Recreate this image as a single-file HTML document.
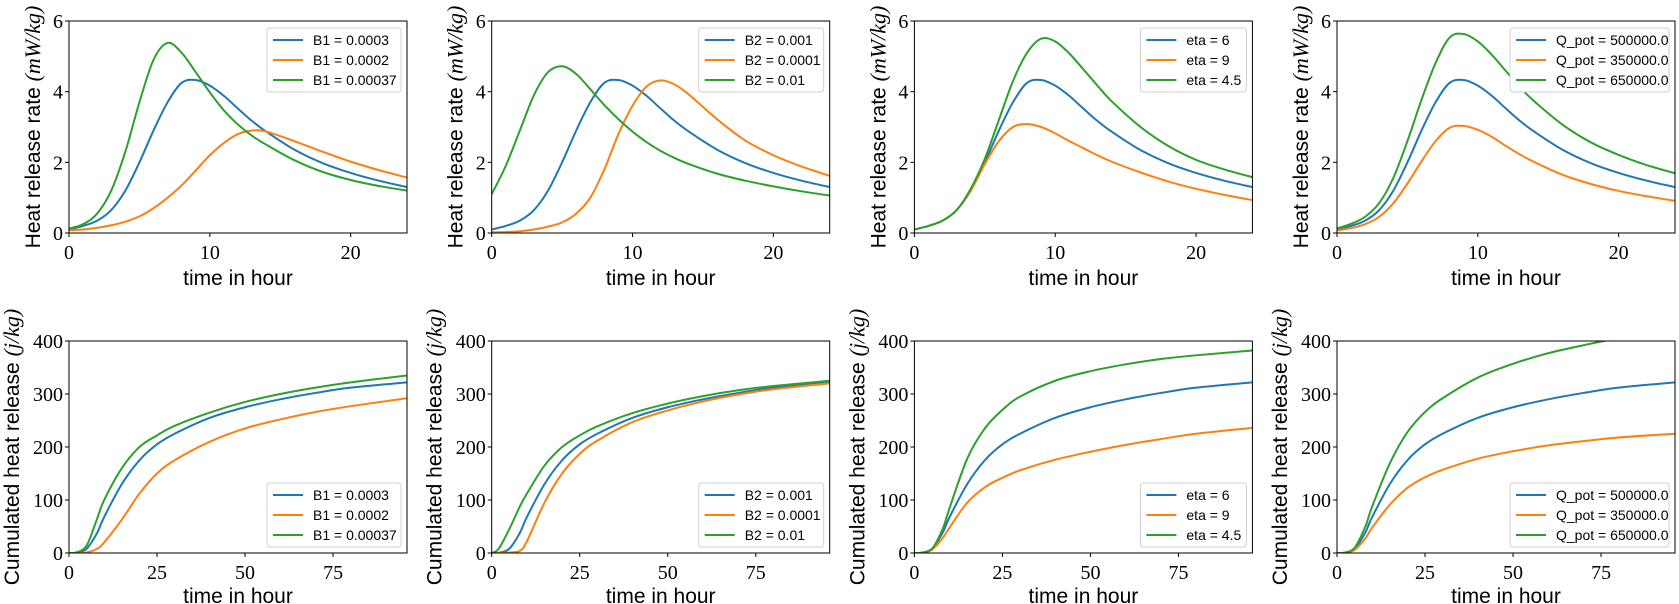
<!DOCTYPE html>
<html><head><meta charset="utf-8">
<style>
html,body{margin:0;padding:0;background:#fff;}
svg{display:block;}
.tick{font-family:"Liberation Serif",serif;font-size:20px;fill:#000;}
.lab{font-family:"Liberation Sans",sans-serif;font-size:21px;fill:#000;}
.leg{font-family:"Liberation Sans",sans-serif;font-size:14px;fill:#000;}
</style></head>
<body>
<svg id="fig" width="1679" height="604" xmlns="http://www.w3.org/2000/svg"></svg>
<script>
// ---------- data ----------
const tTop = [0,1,2,3,4,5,6,7,8,9,10,11,12,13,14,16,18,20,22,24];
const rateBase   = [0.1,0.2,0.35,0.65,1.2,2.0,2.9,3.7,4.25,4.33,4.17,3.88,3.52,3.17,2.87,2.36,1.98,1.7,1.48,1.3];
const rateB1Low  = [0.08,0.1,0.15,0.22,0.32,0.47,0.7,1.0,1.35,1.77,2.2,2.55,2.8,2.9,2.87,2.6,2.3,2.02,1.78,1.57];
const rateB1High = [0.12,0.25,0.55,1.2,2.3,3.7,4.9,5.38,5.1,4.55,3.98,3.47,3.07,2.75,2.5,2.06,1.73,1.5,1.33,1.2];
const rateB2Low  = [0.02,0.03,0.05,0.1,0.18,0.3,0.55,1.0,1.8,2.8,3.6,4.15,4.32,4.2,3.92,3.22,2.62,2.2,1.88,1.62];
const rateB2High = [1.1,1.9,2.9,3.9,4.55,4.72,4.5,4.07,3.62,3.22,2.87,2.57,2.32,2.12,1.95,1.68,1.48,1.32,1.18,1.06];
const rateEta9   = [0.1,0.2,0.35,0.65,1.2,1.95,2.6,3.0,3.08,3.0,2.82,2.6,2.4,2.2,2.02,1.72,1.46,1.25,1.08,0.93];
const rateEta45  = [0.1,0.2,0.35,0.65,1.25,2.1,3.2,4.3,5.1,5.5,5.42,5.08,4.63,4.17,3.73,3.02,2.47,2.07,1.8,1.58];
const rateQ350   = [0.07,0.14,0.25,0.46,0.84,1.4,2.03,2.6,2.98,3.03,2.92,2.72,2.46,2.22,2.01,1.65,1.39,1.19,1.04,0.91];
const rateQ650   = [0.13,0.26,0.46,0.85,1.56,2.6,3.77,4.81,5.53,5.63,5.42,5.04,4.58,4.12,3.73,3.07,2.57,2.21,1.92,1.69];

const tBot = [0,2,5,8,10,15,20,25,30,40,50,60,70,80,96];
const cumBase   = [0,0.5,8,38,68,130,175,205,225,255,275,290,302,312,322];
const cumB1Low  = [0,0,1,8,20,63,112,150,175,210,235,252,266,277,292];
const cumB1High = [0,1,14,65,100,160,200,222,240,265,285,300,312,322,335];
const cumB2Low  = [0,0,1,4,22,95,150,187,212,247,269,286,299,309,320];
const cumB2High = [0,8,45,88,112,165,200,222,239,264,282,296,307,315,325];
const cumEta9   = [0,0.5,6,28,48,95,124,142,156,176,191,204,215,225,236];
const cumEta45  = [0,0.5,8,45,85,178,235,270,295,325,343,356,366,373,382];
const cumQ350   = [0,0.3,6,27,48,91,123,143,157,178,192,203,211,218,225];
const cumQ650   = [0,0.6,10,49,88,169,228,266,292,331,357,377,392,405,419];

const legB1 = ["B1 = 0.0003","B1 = 0.0002","B1 = 0.00037"];
const legB2 = ["B2 = 0.001","B2 = 0.0001","B2 = 0.01"];
const legEta = ["eta = 6","eta = 9","eta = 4.5"];
const legQ = ["Q_pot = 500000.0","Q_pot = 350000.0","Q_pot = 650000.0"];

const topTicksX = [0,10,20], topTicksY = [0,2,4,6];
const botTicksX = [0,25,50,75], botTicksY = [0,100,200,300,400];

// ---------- layout ----------
const COLORS = ["#1f77b4","#ff7f0e","#2ca02c"];
const colLeft = [69,491.7,914.4,1337];
const W = 338;
const rows = [{top:21,bot:233},{top:341,bot:553}];
const legW = [134,125,106,159];
const NS = "http://www.w3.org/2000/svg";
const fig = document.getElementById('fig');

function mk(tag, attrs, parent){
  const e = document.createElementNS(NS, tag);
  for (const k in attrs) e.setAttribute(k, attrs[k]);
  (parent||fig).appendChild(e);
  return e;
}
function smooth(pts){
  let d = "M"+pts[0][0].toFixed(2)+","+pts[0][1].toFixed(2);
  for (let i=0;i<pts.length-1;i++){
    const p0=pts[Math.max(0,i-1)], p1=pts[i], p2=pts[i+1], p3=pts[Math.min(pts.length-1,i+2)];
    const c1=[p1[0]+(p2[0]-p0[0])/6, p1[1]+(p2[1]-p0[1])/6];
    const c2=[p2[0]-(p3[0]-p1[0])/6, p2[1]-(p3[1]-p1[1])/6];
    d+=" C"+c1[0].toFixed(2)+","+c1[1].toFixed(2)+" "+c2[0].toFixed(2)+","+c2[1].toFixed(2)+" "+p2[0].toFixed(2)+","+p2[1].toFixed(2);
  }
  return d;
}

const panels = [
  {r:0,c:0,t:tTop,ser:[rateBase,rateB1Low,rateB1High],leg:legB1},
  {r:0,c:1,t:tTop,ser:[rateBase,rateB2Low,rateB2High],leg:legB2},
  {r:0,c:2,t:tTop,ser:[rateBase,rateEta9,rateEta45],leg:legEta},
  {r:0,c:3,t:tTop,ser:[rateBase,rateQ350,rateQ650],leg:legQ},
  {r:1,c:0,t:tBot,ser:[cumBase,cumB1Low,cumB1High],leg:legB1},
  {r:1,c:1,t:tBot,ser:[cumBase,cumB2Low,cumB2High],leg:legB2},
  {r:1,c:2,t:tBot,ser:[cumBase,cumEta9,cumEta45],leg:legEta},
  {r:1,c:3,t:tBot,ser:[cumBase,cumQ350,cumQ650],leg:legQ},
];

panels.forEach((p,pi)=>{
  const L=colLeft[p.c], R=L+W, T=rows[p.r].top, B=rows[p.r].bot;
  const xmax = p.r===0?24:96, ymax = p.r===0?6:400;
  const xs = v=>L+v/xmax*W, ys = v=>B-v/ymax*(B-T);
  const g = mk('g',{});
  
  
  const cid='clip'+pi;
  const cp = mk('clipPath',{id:cid},g);
  mk('rect',{x:L,y:T,width:W,height:B-T},cp);
  p.ser.forEach((s,si)=>{
    const pts = p.t.map((t,i)=>[xs(t),ys(s[i])]);
    const path = mk('path',{d:smooth(pts),fill:'none',stroke:COLORS[si],'stroke-width':2,'clip-path':'url(#'+cid+')'},g);
    
    
  });
  const fr = mk('rect',{x:L,y:T,width:W,height:B-T,fill:'none',stroke:'#000','stroke-width':1},g);
  
  
  const tx = p.r===0?topTicksX:botTicksX, ty = p.r===0?topTicksY:botTicksY;
  tx.forEach(v=>{
    mk('line',{x1:xs(v),x2:xs(v),y1:B,y2:B+4,stroke:'#000'},g);
    const t = mk('text',{x:xs(v),y:B+26,'text-anchor':'middle',class:'tick'},g);
    t.textContent=v;
    
    
  });
  ty.forEach(v=>{
    mk('line',{x1:L-4,x2:L,y1:ys(v),y2:ys(v),stroke:'#000'},g);
    const t = mk('text',{x:L-6,y:ys(v)+7,'text-anchor':'end',class:'tick'},g);
    t.textContent=v;
    
    
  });
  const xl = mk('text',{x:L+W/2,y:p.r===0?285:603,'text-anchor':'middle',class:'lab'},g);
  xl.textContent='time in hour';
  
  
  const yc = (T+B)/2, yx = p.r===0?L-29:L-50;
  const yl = mk('text',{x:yx,y:yc,'text-anchor':'middle',class:'lab',transform:'rotate(-90 '+yx+' '+yc+')'},g);
  
  
  const t1 = mk('tspan',{},yl);
  t1.textContent = p.r===0?'Heat release rate ':'Cumulated heat release ';
  const t2 = mk('tspan',{'font-family':'Liberation Serif, serif','font-style':'italic','font-size':'22'},yl);
  t2.textContent = p.r===0?'(mW/kg)':'(j/kg)';
  const lw = legW[p.c], lx = R-6-lw, ly = p.r===0?T+7:B-70;
  const lg = mk('g',{},g);
  
  
  mk('rect',{x:lx,y:ly,width:lw,height:64,rx:3,fill:'#fff',stroke:'#d0d0d0','stroke-width':1},lg);
  p.leg.forEach((txt,i)=>{
    const cy = ly+12+i*20;
    const ln = mk('line',{x1:lx+6,x2:lx+36,y1:cy,y2:cy,stroke:COLORS[i],'stroke-width':2},lg);
    
    
    const tt = mk('text',{x:lx+46,y:cy+5,class:'leg'},lg);
    tt.textContent = txt;
    
    
  });
});
</script>
</body></html>
